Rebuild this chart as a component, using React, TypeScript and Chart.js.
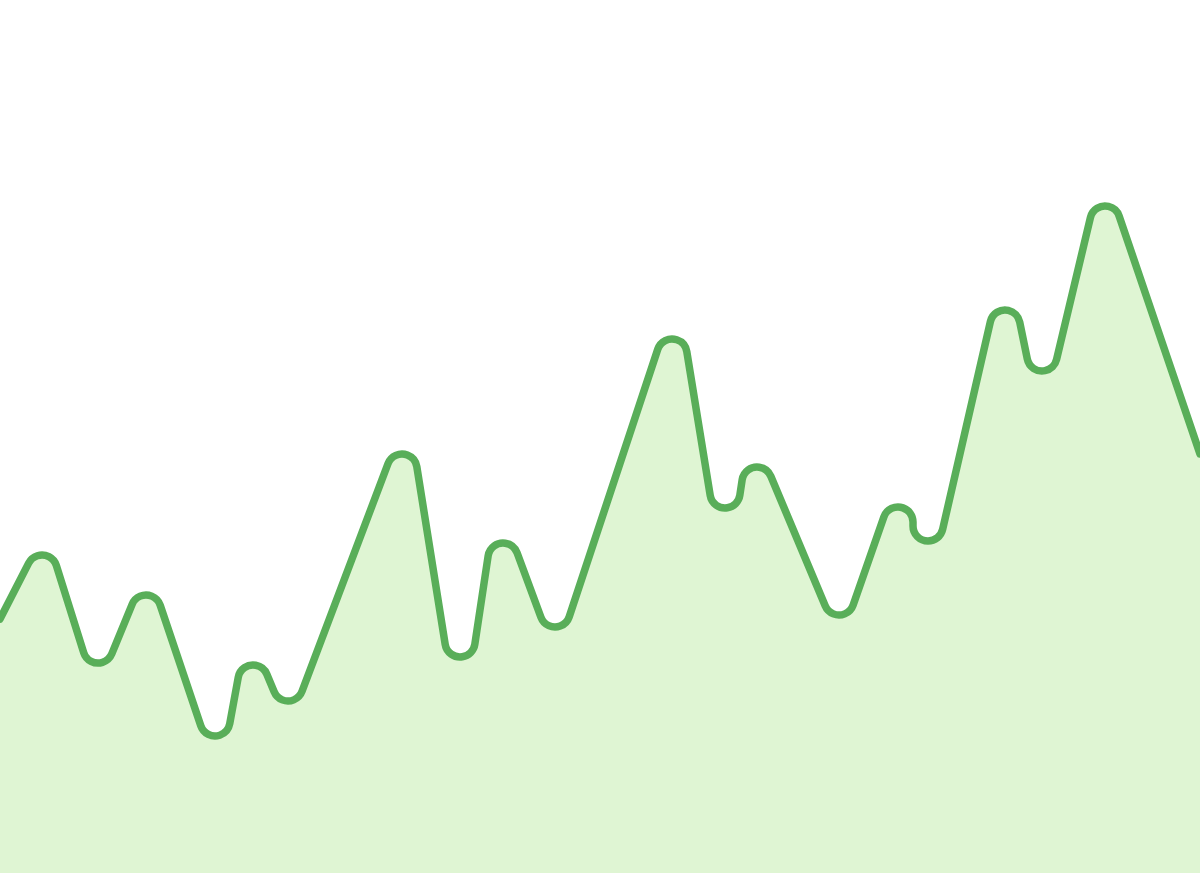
import React, { useEffect, useRef } from "react";
import { Chart, registerables } from "chart.js";

Chart.register(...registerables);

// x positions and values of the line's turning points (peaks / troughs), plus both edge points
const xValues = [0, 42, 98, 146, 215, 253, 288, 402, 460, 503, 555, 672, 725, 757, 839, 898, 928, 1005, 1042, 1105, 1200];
const yValues = [254, 318, 210, 278, 137, 208, 172, 419, 216, 330, 246, 534, 365, 406, 258, 366, 332, 563, 502, 667, 419];

const CORNER_RADIUS = 15;
const LINE_WIDTH = 7.5;
const LINE_COLOR = "#59ae59";
const FILL_COLOR = "#dff5d3";

type Pt = { x: number; y: number };

function tracePath(ctx: CanvasRenderingContext2D, pts: Pt[], r: number) {
  const n = pts.length;
  const side = pts.map((p, i) => {
    if (i === 0 || i === n - 1) return 0;
    if (p.y < pts[i - 1].y && p.y < pts[i + 1].y) return 1;
    if (p.y > pts[i - 1].y && p.y > pts[i + 1].y) return -1;
    return 0;
  });
  const rad = side.map((s) => (s === 0 ? 0 : r));
  const centers = pts.map((p, i) => ({ x: p.x, y: p.y + side[i] * rad[i] }));
  const segs: { ta: Pt; tb: Pt }[] = [];
  for (let i = 0; i < n - 1; i++) {
    const a = centers[i];
    const b = centers[i + 1];
    const dx = b.x - a.x;
    const dy = b.y - a.y;
    const L = Math.hypot(dx, dy) || 1;
    const k = side[i + 1] * rad[i + 1] - side[i] * rad[i];
    const phi = Math.atan2(dy, dx);
    const psi = phi - Math.asin(Math.max(-1, Math.min(1, k / L)));
    const nx = -Math.sin(psi);
    const ny = Math.cos(psi);
    segs.push({
      ta: { x: a.x - side[i] * rad[i] * nx, y: a.y - side[i] * rad[i] * ny },
      tb: { x: b.x - side[i + 1] * rad[i + 1] * nx, y: b.y - side[i + 1] * rad[i + 1] * ny },
    });
  }
  ctx.moveTo(pts[0].x, pts[0].y);
  for (let i = 1; i < n - 1; i++) {
    const c = centers[i];
    const inPt = segs[i - 1].tb;
    const outPt = segs[i].ta;
    if (rad[i] === 0) {
      ctx.lineTo(inPt.x, inPt.y);
      continue;
    }
    const a1 = Math.atan2(inPt.y - c.y, inPt.x - c.x);
    const a2 = Math.atan2(outPt.y - c.y, outPt.x - c.x);
    ctx.arc(c.x, c.y, rad[i], a1, a2, side[i] < 0);
  }
  ctx.lineTo(pts[n - 1].x, pts[n - 1].y);
}

const roundedLinePlugin = {
  id: "roundedLine",
  beforeDatasetsDraw(chart: any) {
    const meta = chart.getDatasetMeta(0);
    const pts: Pt[] = meta.data.map((p: any) => ({ x: p.x, y: p.y }));
    if (pts.length < 2) return;
    const ctx: CanvasRenderingContext2D = chart.ctx;
    const area = chart.chartArea;
    ctx.save();
    ctx.beginPath();
    tracePath(ctx, pts, CORNER_RADIUS);
    ctx.lineTo(pts[pts.length - 1].x, area.bottom);
    ctx.lineTo(pts[0].x, area.bottom);
    ctx.closePath();
    ctx.fillStyle = FILL_COLOR;
    ctx.fill();
    ctx.beginPath();
    tracePath(ctx, pts, CORNER_RADIUS);
    ctx.strokeStyle = LINE_COLOR;
    ctx.lineWidth = LINE_WIDTH;
    ctx.lineJoin = "round";
    ctx.lineCap = "round";
    ctx.stroke();
    ctx.restore();
  },
};

export default function App() {
  const ref = useRef<HTMLCanvasElement | null>(null);
  useEffect(() => {
    document.body.style.margin = "0";
    const canvas = ref.current;
    if (!canvas) return;
    const chart = new Chart(canvas, {
      type: "line",
      data: {
        datasets: [
          {
            data: xValues.map((x, i) => ({ x, y: yValues[i] })),
            borderColor: LINE_COLOR,
            backgroundColor: FILL_COLOR,
            showLine: false,
            fill: false,
            pointRadius: 0,
            pointHoverRadius: 0,
          },
        ],
      },
      options: {
        animation: false,
        responsive: false,
        maintainAspectRatio: false,
        layout: { padding: 0 },
        events: [],
        plugins: { legend: { display: false }, tooltip: { enabled: false } },
        scales: {
          x: { type: "linear", min: 0, max: 1200, display: false },
          y: { min: 0, max: 873, display: false },
        },
      },
      plugins: [roundedLinePlugin],
    });
    return () => chart.destroy();
  }, []);
  return (
    <div style={{ width: 1200, height: 873, background: "#ffffff" }}>
      <canvas ref={ref} width={1200} height={873} style={{ display: "block" }} />
    </div>
  );
}
